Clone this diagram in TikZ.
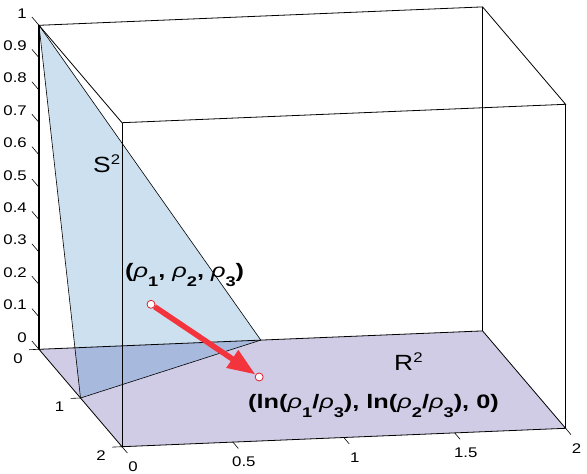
\documentclass[tikz,border=0pt]{standalone}
\usepackage{fontspec}
\setmainfont{Liberation Sans}
\newfontfamily\axisfont[FakeStretch=1.2]{Liberation Sans}
\newfontfamily\labelfont[FakeStretch=1.3]{Liberation Sans}
\usetikzlibrary{arrows.meta,positioning}
\definecolor{planelilac}{RGB}{208,204,229}
\definecolor{simplexblue}{RGB}{35,122,191}
\definecolor{arrowred}{RGB}{244,52,60}
\definecolor{markred}{RGB}{226,30,42}
\newcommand{\rh}{{\mdseries\itshape ρ}}
\newcommand{\lo}[1]{\raisebox{-9pt}{\fontsize{14}{14}\selectfont #1}}
\newcommand{\hi}[1]{\raisebox{8pt}{\fontsize{14}{14}\selectfont #1}}

\begin{document}
\begin{tikzpicture}[x=1pt,y=-1pt,
    axislabel/.style={font=\axisfont\fontsize{14}{14}\selectfont, inner sep=0pt},
    labeltext/.style={font=\labelfont\bfseries\fontsize{19.5}{19.5}\selectfont, inner sep=0pt},
    setlabel/.style={font=\axisfont\fontsize{22}{22}\selectfont, inner sep=0pt},
    boxedge/.style={black, line width=0.8pt},
    simplexedge/.style={black, line width=0.6pt},
    tickmark/.style={black, line width=0.6pt},
    marker/.style={circle, draw=markred, fill=white, line width=0.8pt, minimum size=8pt, inner sep=0pt},
    bigarrow/.style={arrowred, line width=5.5pt, -{Triangle[length=28pt,width=20pt]}}]
  \useasboundingbox (0,0) rectangle (587,474);

  \begin{scope}[shift={(39,349.3)}, x={(221.8pt,9.2pt)}, y={(41.5pt,-48.7pt)}, z={(0pt,324pt)}]
    % Plane R^2 and simplex S^2
    \fill[planelilac] (0,0,0) -- (2,0,0) -- (2,2,0) -- (0,2,0) -- cycle;
    \fill[simplexblue, opacity=0.23] (1,0,0) -- (0,1,0) -- (0,0,1) -- cycle;

    % Box
    \draw[boxedge] (0,0,1) -- (2,0,1) -- (2,2,1) -- (0,2,1) -- cycle;
    \draw[boxedge] (0,0,0) -- (2,0,0) -- (2,2,0) -- (0,2,0) -- cycle;
    \foreach \x/\y in {2/0,2/2,0/2} \draw[boxedge] (\x,\y,0) -- (\x,\y,1);
    \draw[boxedge, line width=1.8pt] (0,0,0) -- (0,0,1);
    \draw[simplexedge] (1,0,0) -- (0,1,0) -- (0,0,1) -- cycle;

    % Ticks
    \foreach \z [count=\i] in {0,0.1,0.2,0.3,0.4,0.5,0.6,0.7,0.8,0.9,1} {
      \draw[tickmark] (0,0,\z) -- (0,-0.17,\z);
      \node[axislabel, anchor=east, xshift=-12pt, yshift=12pt] (zlab\i) at (0,0,\z) {\z};
    }
    \foreach \y [count=\i] in {0,1,2} {
      \draw[tickmark] (0,\y,0) -- (-0.045,\y,0);
      \node[axislabel, xshift=-21pt, yshift=-9pt] (ylab\i) at (0,\y,0) {\y};
    }
    \foreach \x [count=\i] in {0,0.5,1,1.5,2} {
      \draw[tickmark] (\x,2,0) -- (\x,2.13,0);
      \node[axislabel, xshift=11pt, yshift=-20pt] (xlab\i) at (\x,2,0) {\x};
    }

    % Map
    \node[marker] (src) at (0.4335,0.382,0.184) {};
    \node[marker] (dst) at (0.856,0.73,0) {};
    \draw[bigarrow] (src) -- (dst);
  \end{scope}

  % Labels
  \node[setlabel, anchor=base west] (simplexlabel) at (93,172.3) {S\hi{2}};
  \node[setlabel, anchor=base west] (planelabel) at (394,370.7) {R\hi{2}};
  \node[labeltext, anchor=base west] (srclabel) at (125,277) {(\rh\lo{1}, \rh\lo{2}, \rh\lo{3})};
  \node[labeltext, anchor=base west] (dstlabel) at (248,408) {(ln(\rh\lo{1}/\rh\lo{3}), ln(\rh\lo{2}/\rh\lo{3}), 0)};
\end{tikzpicture}
\end{document}
